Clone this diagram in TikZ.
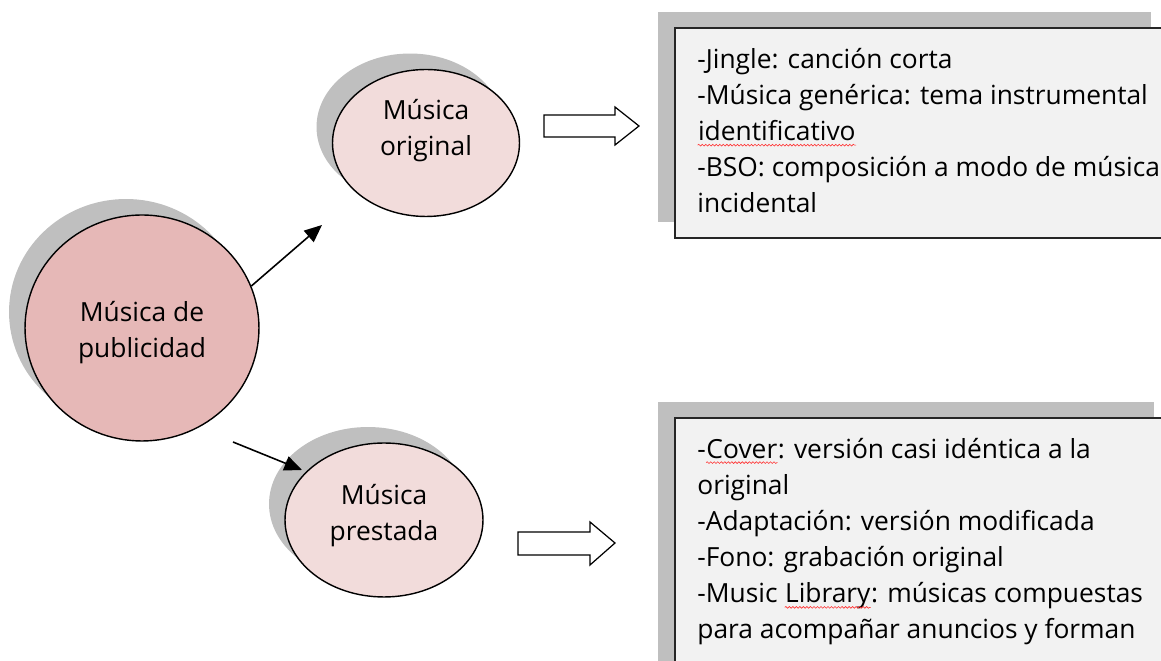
\documentclass[tikz,border=0pt]{standalone}
\usepackage{fontspec}
\setmainfont{Open Sans}
\usetikzlibrary{shapes.geometric,arrows.meta,shadows,decorations.pathmorphing}
\definecolor{bigfill}{HTML}{E6B8B7}
\definecolor{smallfill}{HTML}{F2DCDB}
\definecolor{shgray}{HTML}{BFBFBF}
\definecolor{boxfill}{HTML}{F2F2F2}
\newcommand\spellwave[1]{\tikz[baseline=(w.base)]{\node[inner sep=0pt,anchor=base](w) at (0,0){#1};\draw[red!80, line width=0.35pt, decorate, decoration={snake,amplitude=0.5pt,segment length=2pt}] ([yshift=-2.6pt]w.base west) -- ([yshift=-2.6pt]w.base east);}}
\tikzset{
  bubble/.style={ellipse, draw=black, line width=0.8pt, inner sep=0pt,
    drop shadow={shadow xshift=-0.32cm, shadow yshift=0.32cm, fill=shgray, opacity=1}},
  boxnode/.style={rectangle, draw=black!85, line width=1.1pt, fill=boxfill, inner sep=0pt, anchor=north west,
    drop shadow={shadow xshift=-0.34cm, shadow yshift=0.32cm, fill=shgray, opacity=1}},
  txt/.style={font=\fontsize{15}{20.6}\selectfont, inner sep=0pt, align=left, anchor=base west},
  ctxt/.style={font=\fontsize{15}{20.6}\selectfont, inner sep=0pt, align=center, anchor=base},
  arr/.style={line width=0.9pt, -{Triangle[length=10pt,width=8.5pt]}},
  blockarrow/.style={draw=black, fill=white, line width=0.7pt, line join=miter}
}
\begin{document}
\begin{tikzpicture}[x=0.02cm,y=-0.02cm]
\useasboundingbox (0,0) rectangle (1161,661);
\clip (0,0) rectangle (1161,661);
% bubbles
\node[bubble, fill=bigfill, minimum width=4.68cm, minimum height=4.52cm] (big) at (142,328) {};
\node[bubble, fill=smallfill, minimum width=3.74cm, minimum height=2.94cm] (orig) at (426,143) {};
\node[bubble, fill=smallfill, minimum width=3.96cm, minimum height=3.08cm] (prest) at (384,520) {};
% (base anchor = baseline of the last line)
\node[ctxt] (bigtxt) at (142,358) {Música de\\publicidad};
\node[ctxt] (origtxt) at (426,156) {Música\\original};
\node[ctxt] (presttxt) at (384,541) {Música\\prestada};
% thin arrows
\coordinate (t1) at (322,225);
\coordinate (s2) at (233,442);
\coordinate (t2) at (302,470);
\draw[arr] (big.21) -- (t1);
\draw[arr] (s2) -- (t2);
% block arrows
\draw[blockarrow] (544,115) -- (615,115) -- (615,107) -- (639,126) -- (615,145) -- (615,137) -- (544,137) -- cycle;
\draw[blockarrow] (518,532) -- (590,532) -- (590,522) -- (615,543) -- (590,565) -- (590,555) -- (518,555) -- cycle;
% boxes
\node[boxnode, minimum width=9.86cm, minimum height=4.2cm] (box1) at (674,27) {};
\node[boxnode, minimum width=9.92cm, minimum height=5.6cm] (box2) at (674,417) {};
\node[txt] (list1) at (697,213) {-Jingle: canción corta\\-Música genérica: tema instrumental\\\spellwave{identificativo}\\-BSO: composición a modo de música\\incidental};
\node[txt] (list2) at (697,639) {-\spellwave{Cover}: versión casi idéntica a la\\original\\-Adaptación: versión modificada\\-Fono: grabación original\\-Music \spellwave{Library}: músicas compuestas\\para acompañar anuncios y forman};
\end{tikzpicture}
\end{document}
